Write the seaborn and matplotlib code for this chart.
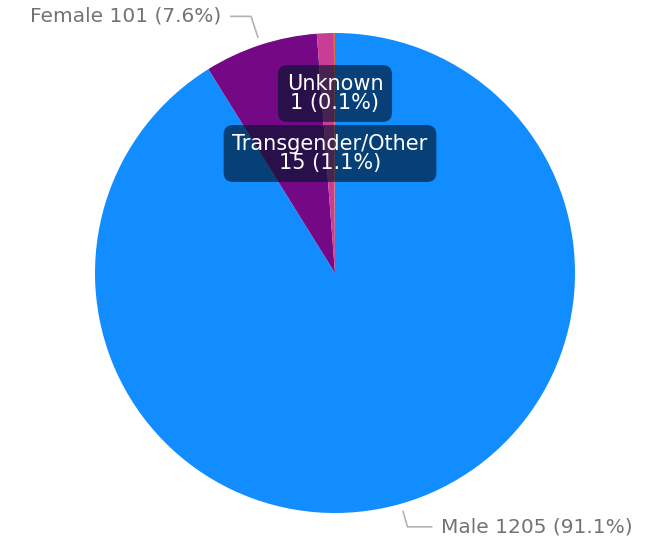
import numpy as np
import matplotlib
matplotlib.use('Agg')
import matplotlib.pyplot as plt
import seaborn as sns

categories = ['Male', 'Female', 'Transgender/Other', 'Unknown']
counts = [1205, 101, 15, 1]
colours = ['#118dff', '#750985', '#c83d95', '#e66c37']

sns.set_theme(style='white')
plt.rcParams['font.family'] = ['DejaVu Sans']

total = sum(counts)
pcts = [c / total * 100 for c in counts]

fig = plt.figure(figsize=(6.46, 5.46), dpi=100)
ax = fig.add_axes([0, 0, 1, 1])

cx, cy, r = 335, 273, 240
wedges, _ = ax.pie(counts, colors=colours, startangle=90, counterclock=False,
                   center=(cx, cy), radius=r, frame=True,
                   wedgeprops=dict(linewidth=0))
ax.set_xlim(0, 646)
ax.set_ylim(0, 546)
ax.set_aspect('equal')
ax.axis('off')

grey = '#737373'
# outside labels with leader lines for Male and Female
for i, side, elbow, seg in [(0, 1, 1.1, 25), (1, -1, 1.125, 21)]:
    w = wedges[i]
    ang = np.deg2rad((w.theta1 + w.theta2) / 2)
    x0, y0 = cx + r * 1.03 * np.cos(ang), cy + r * 1.03 * np.sin(ang)
    x1, y1 = cx + r * elbow * np.cos(ang), cy + r * elbow * np.sin(ang)
    x2 = x1 + side * seg
    ax.plot([x0, x1, x2], [y0, y1, y1], color='#b3b3b3', lw=1.2, solid_capstyle='butt')
    txt = f'{categories[i]} {counts[i]} ({pcts[i]:.1f}%)'
    ax.text(x2 + side * 9, y1, txt, ha='left' if side > 0 else 'right',
            va='center', fontsize=14.5, color=grey)

# tooltip-style labels for the small slices
box = dict(boxstyle='round,pad=0.42,rounding_size=0.45', fc='#00152b', ec='none', alpha=0.64)
ax.text(cx, 546 - 93.5, f'{categories[3]}\n{counts[3]} ({pcts[3]:.1f}%)', ha='center', va='center',
        fontsize=15, color='white', linespacing=0.96, bbox=box)
ax.text(cx - 5, 546 - 153.5, f'{categories[2]}\n{counts[2]} ({pcts[2]:.1f}%)', ha='center', va='center',
        fontsize=15, color='white', linespacing=0.96, bbox=box)

plt.savefig('out.png', dpi=100)
